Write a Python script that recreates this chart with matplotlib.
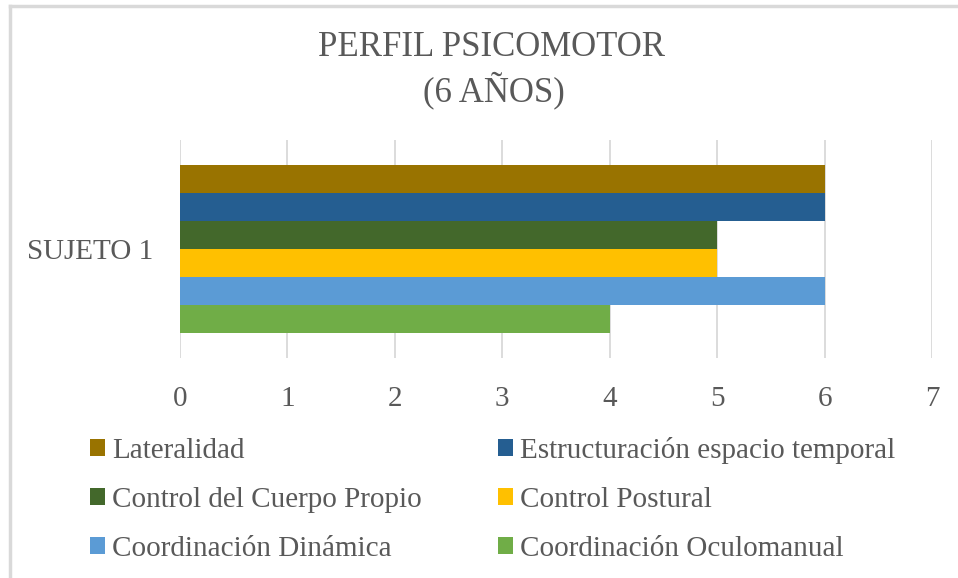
import matplotlib.pyplot as plt
from matplotlib.lines import Line2D
from matplotlib.patches import Patch

categories = ['SUJETO 1']
series = ['Lateralidad', 'Estructuración espacio temporal', 'Control del Cuerpo Propio',
          'Control Postural', 'Coordinación Dinámica', 'Coordinación Oculomanual']
values = [6, 6, 5, 5, 6, 4]
colors = ['#997300', '#255E91', '#43682B', '#FFC000', '#5B9BD5', '#70AD47']

plt.rcParams['font.family'] = ['Liberation Serif', 'DejaVu Serif']
text_color = '#595959'

W, H = 958, 578
fig = plt.figure(figsize=(W / 100, H / 100), dpi=100)

# light chart border (Excel style); only top and left edges are in the crop
fig.add_artist(Line2D([10 / W, 1], [1 - 6 / H, 1 - 6 / H], transform=fig.transFigure,
                      color='#D9D9D9', linewidth=2.5))
fig.add_artist(Line2D([10 / W, 10 / W], [0, 1 - 6 / H], transform=fig.transFigure,
                      color='#D9D9D9', linewidth=2.5))

ax = fig.add_axes([180 / W, 1 - 358 / H, (932 - 180) / W, (358 - 140) / H])

# each series is one bar inside the single category group
for i, (name, v, c) in enumerate(zip(series, values, colors)):
    ax.barh(i, v, height=1.0, color=c, label=name, zorder=3)

ax.set_ylim(6.39, -1.39)
ax.set_yticks([2.5])
ax.set_yticklabels(categories)
ax.set_xlim(0, 7)
ax.set_xticks(range(8))
ax.grid(axis='x', color='#D9D9D9', linewidth=1.3, zorder=0)
for s in ax.spines.values():
    s.set_visible(False)
ax.tick_params(axis='both', length=0, labelsize=21, colors=text_color)
ax.tick_params(axis='x', pad=20)
ax.tick_params(axis='y', pad=19.5)

fig.text(492 / W, 1 - 48 / H, 'PERFIL PSICOMOTOR', ha='center', va='center',
         fontsize=25, color=text_color)
fig.text(494 / W, 1 - 90 / H, '(6 AÑOS)', ha='center', va='center',
         fontsize=25, color=text_color)

handles = [Patch(facecolor=c) for c in colors]
order = [0, 2, 4, 1, 3, 5]
fig.legend([handles[k] for k in order], [series[k] for k in order], ncol=2,
           loc='upper left', bbox_to_anchor=(90 / W, 1 - 437 / H), frameon=False,
           fontsize=21, labelcolor=text_color, handlelength=0.5, handleheight=0.5,
           handletextpad=0.25, columnspacing=2.62, labelspacing=0.79,
           borderaxespad=0, borderpad=0)

plt.savefig('out.png', dpi=100)
